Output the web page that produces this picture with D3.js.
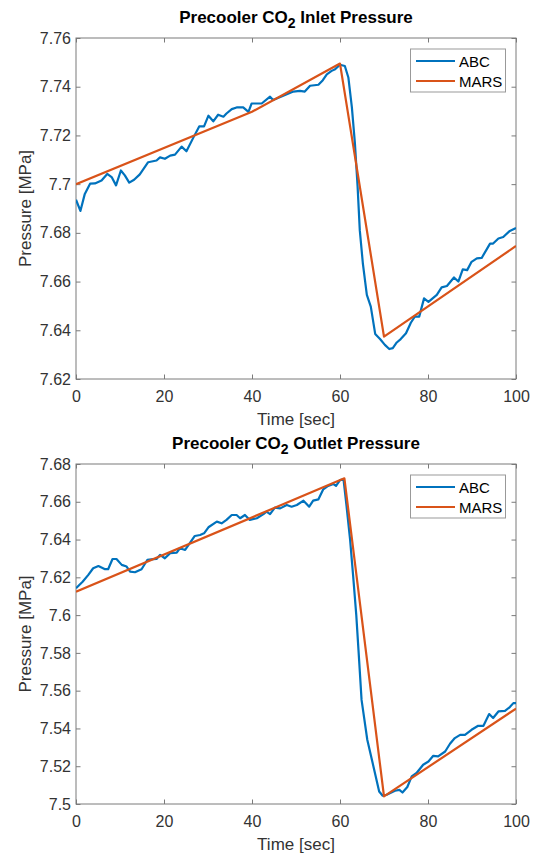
<!DOCTYPE html>
<html>
<head>
<meta charset="utf-8">
<script src="https://cdn.jsdelivr.net/npm/d3@7"></script>
<style>
  body { margin: 0; background: #fff; }
  svg { display: block; font-family: "Liberation Sans", Arial, sans-serif; }
</style>
</head>
<body>
<div id="chart"></div>
<script>
// time ticks shared by both panels
const timeTicks = [0, 20, 40, 60, 80, 100];
const seriesNames = ["ABC", "MARS"];
const seriesColors = ["#0072BD", "#D95319"];

// --- inlet pressure panel ---
const inletTicks = [7.62, 7.64, 7.66, 7.68, 7.70, 7.72, 7.74, 7.76];
const inletAbcTime = [0, 1, 2, 3.2, 4.3, 5.8, 7.1, 8.1, 9.1, 10.2, 11.1, 12.1, 13.2, 14.5, 16.4, 18.3, 19.1, 20.2, 21.4, 22.5,
  24, 25.1, 26.7, 28, 29.1, 30.1, 31.2, 32.3, 33.5, 34.2, 35.4, 36.5, 38, 39.2, 39.9, 42.2, 44.1, 44.8, 47.1, 49.4,
  50.9, 52, 53.2, 55.1, 56.1, 57, 58.1, 58.9, 60, 61.1, 61.9, 62.7, 63.4, 64, 64.5, 65.2, 66.1, 67, 68, 69.1,
  70.2, 71.2, 72, 72.9, 73.8, 75, 76.1, 77, 78, 79.1, 80.1, 82, 83.1, 84.3, 85.9, 86.9, 87.9, 88.9, 89.9, 91.1,
  92.2, 94.1, 94.8, 96, 97.1, 98.6, 100];
const inletAbcValue = [7.6936, 7.689, 7.696, 7.7002, 7.7003, 7.7015, 7.7042, 7.7029, 7.6995, 7.7056, 7.7036, 7.7006, 7.7018, 7.704, 7.709, 7.7097, 7.711, 7.7104, 7.7117, 7.7121,
  7.7154, 7.7135, 7.7192, 7.7237, 7.7237, 7.7281, 7.7258, 7.7285, 7.7277, 7.729, 7.7308, 7.7315, 7.7315, 7.7297, 7.7331, 7.7331, 7.7359, 7.7345, 7.7363, 7.738,
  7.7383, 7.738, 7.7404, 7.7408, 7.7427, 7.7451, 7.7465, 7.7472, 7.749, 7.7485, 7.7438, 7.7315, 7.7165, 7.699, 7.681, 7.6674, 7.6545, 7.6497, 7.6385, 7.6364,
  7.634, 7.6323, 7.6327, 7.635, 7.6364, 7.6388, 7.6431, 7.6456, 7.6456, 7.6531, 7.6517, 7.6545, 7.6576, 7.6582, 7.6617, 7.66, 7.665, 7.6647, 7.6681, 7.6695,
  7.6697, 7.6756, 7.6756, 7.6777, 7.6783, 7.6808, 7.682];
const inletMarsTime = [0, 40, 60, 70, 100];
const inletMarsValue = [7.700, 7.7297, 7.7495, 7.6374, 7.6746];

// --- outlet pressure panel ---
const outletTicks = [7.50, 7.52, 7.54, 7.56, 7.58, 7.60, 7.62, 7.64, 7.66, 7.68];
const outletAbcTime = [0, 1.5, 2.8, 3.9, 5.1, 6.6, 7.3, 8.3, 9.2, 10.4, 11.5, 12.3, 13.4, 14.9, 16.2, 17.6, 18.3, 19.1, 20.2, 21.4,
  22.9, 23.6, 24.8, 26.1, 27, 28.2, 29.1, 30.1, 32, 33.1, 34.2, 35.4, 36.5, 37.3, 38.4, 39.5, 41.1, 42.6, 43.3, 44.1,
  45.2, 46.4, 47.9, 49, 50.2, 51.7, 53, 53.9, 55.1, 56.2, 57.3, 58.5, 59.1, 60, 60.8, 61.5, 62.3, 63, 63.7, 64.2,
  64.9, 66.2, 67.6, 68.9, 69.7, 70.6, 72.5, 73.5, 74.2, 75.3, 76.3, 77.4, 78.9, 80.1, 81.2, 82.3, 83.9, 85, 86.1, 87.3,
  88.4, 89.9, 91.4, 92.6, 93.9, 94.8, 96, 97.5, 98.6, 99.4, 100];
const outletAbcValue = [7.6142, 7.6177, 7.6213, 7.6248, 7.626, 7.6243, 7.6243, 7.6297, 7.6297, 7.6266, 7.6257, 7.623, 7.6227, 7.6243, 7.6292, 7.6296, 7.6297, 7.6319, 7.6301, 7.6328,
  7.6331, 7.6354, 7.6345, 7.6389, 7.6419, 7.6424, 7.6433, 7.6465, 7.6495, 7.6486, 7.6504, 7.653, 7.653, 7.6513, 7.653, 7.6504, 7.6513, 7.6535, 7.6548, 7.6535,
  7.6569, 7.6565, 7.6583, 7.6574, 7.6583, 7.6606, 7.6574, 7.6606, 7.6613, 7.6666, 7.6684, 7.6694, 7.6684, 7.6715, 7.6719, 7.6574, 7.6398, 7.6204, 7.600, 7.5816,
  7.5551, 7.534, 7.5199, 7.5066, 7.5044, 7.5049, 7.507, 7.5075, 7.5061, 7.509, 7.5146, 7.5164, 7.5208, 7.5225, 7.5255, 7.5252, 7.5278, 7.5319, 7.5349, 7.5366,
  7.5366, 7.5393, 7.5414, 7.5414, 7.5476, 7.5455, 7.549, 7.5493, 7.5513, 7.5534, 7.5534];
const outletMarsTime = [0, 61, 70, 100];
const outletMarsValue = [7.6124, 7.6724, 7.504, 7.5505];

const width = 538, height = 853;
const svg = d3.select("#chart").append("svg").attr("width", width).attr("height", height);
svg.append("rect").attr("width", width).attr("height", height).attr("fill", "#fff");

const zip = (ts, vs) => ts.map((t, i) => [t, vs[i]]);
const fmtY = d => String(+d.toFixed(2));

function drawPanel(id, top, bottom, titleParts, yTicks, abc, mars) {
  const left = 76, right = 516;
  const x = d3.scaleLinear().domain([0, 100]).range([left, right]);
  const y = d3.scaleLinear().domain([yTicks[0], yTicks[yTicks.length - 1]]).range([bottom, top]);
  const g = svg.append("g");
  const axisColor = "#7a7a7a", labelColor = "#333";

  // clip for lines
  svg.append("clipPath").attr("id", "clip" + id)
    .append("rect").attr("x", left).attr("y", top).attr("width", right - left).attr("height", bottom - top);

  // bottom axis with labels, plus mirrored ticks on the other sides
  const xAxis = g.append("g").attr("transform", `translate(0,${bottom})`)
    .call(d3.axisBottom(x).tickValues(timeTicks).tickSizeInner(-4.5).tickSizeOuter(0).tickPadding(11.6));
  const xTop = g.append("g").attr("transform", `translate(0,${top})`)
    .call(d3.axisTop(x).tickValues(timeTicks).tickSizeInner(-4.5).tickSizeOuter(0).tickFormat(""));
  const yAxis = g.append("g").attr("transform", `translate(${left},0)`)
    .call(d3.axisLeft(y).tickValues(yTicks).tickFormat(fmtY).tickSizeInner(-4.5).tickSizeOuter(0).tickPadding(5));
  const yRight = g.append("g").attr("transform", `translate(${right},0)`)
    .call(d3.axisRight(y).tickValues(yTicks).tickSizeInner(-4.5).tickSizeOuter(0).tickFormat(""));

  [xAxis, xTop, yAxis, yRight].forEach(a => {
    a.select(".domain").remove();
    a.selectAll("line").attr("stroke", axisColor);
    a.selectAll("text").attr("fill", labelColor).attr("font-size", 16).attr("font-family", "Liberation Sans, Arial, sans-serif");
  });

  g.append("rect").attr("x", left).attr("y", top).attr("width", right - left).attr("height", bottom - top)
    .attr("fill", "none").attr("stroke", axisColor).attr("stroke-width", 1);

  // axis labels
  g.append("text").attr("x", (left + right) / 2).attr("y", bottom + 45.5)
    .attr("text-anchor", "middle").attr("font-size", 17).attr("fill", labelColor).text("Time [sec]");
  g.append("text").attr("transform", `translate(31,${(top + bottom) / 2}) rotate(-90)`)
    .attr("text-anchor", "middle").attr("font-size", 17).attr("fill", labelColor).text("Pressure [MPa]");

  // title with subscript
  const title = g.append("text").attr("x", (left + right) / 2).attr("y", top - 15.5)
    .attr("text-anchor", "middle").attr("font-size", 17).attr("font-weight", "bold").attr("fill", "#000");
  title.append("tspan").text(titleParts[0]);
  title.append("tspan").attr("dy", 5.5).attr("font-size", 14).text("2");
  title.append("tspan").attr("dy", -5.5).text(titleParts[1]);

  // lines
  const line = d3.line().x(d => x(d[0])).y(d => y(d[1]));
  const lines = g.append("g").attr("clip-path", `url(#clip${id})`);
  [abc, mars].forEach((data, i) => {
    lines.append("path").datum(data)
      .attr("fill", "none").attr("stroke", seriesColors[i]).attr("stroke-width", 2.2)
      .attr("stroke-linejoin", "round").attr("d", line);
  });

  // legend
  const lx = 410.5, ly = top + 11, lw = 95, lh = 43;
  const leg = g.append("g");
  leg.append("rect").attr("x", lx).attr("y", ly).attr("width", lw).attr("height", lh)
    .attr("fill", "#fff").attr("stroke", "#999").attr("stroke-width", 1);
  seriesNames.forEach((name, i) => {
    const yy = ly + 12 + i * 20;
    leg.append("line").attr("x1", lx + 5.5).attr("x2", lx + 44.5).attr("y1", yy).attr("y2", yy)
      .attr("stroke", seriesColors[i]).attr("stroke-width", 2.2);
    leg.append("text").attr("x", lx + 48.5).attr("y", yy + 5.5).attr("font-size", 15).attr("fill", "#000").text(name);
  });
}

drawPanel("a", 38, 379, ["Precooler CO", " Inlet Pressure"], inletTicks,
  zip(inletAbcTime, inletAbcValue), zip(inletMarsTime, inletMarsValue));
drawPanel("b", 464, 804, ["Precooler CO", " Outlet Pressure"], outletTicks,
  zip(outletAbcTime, outletAbcValue), zip(outletMarsTime, outletMarsValue));
</script>
</body>
</html>
